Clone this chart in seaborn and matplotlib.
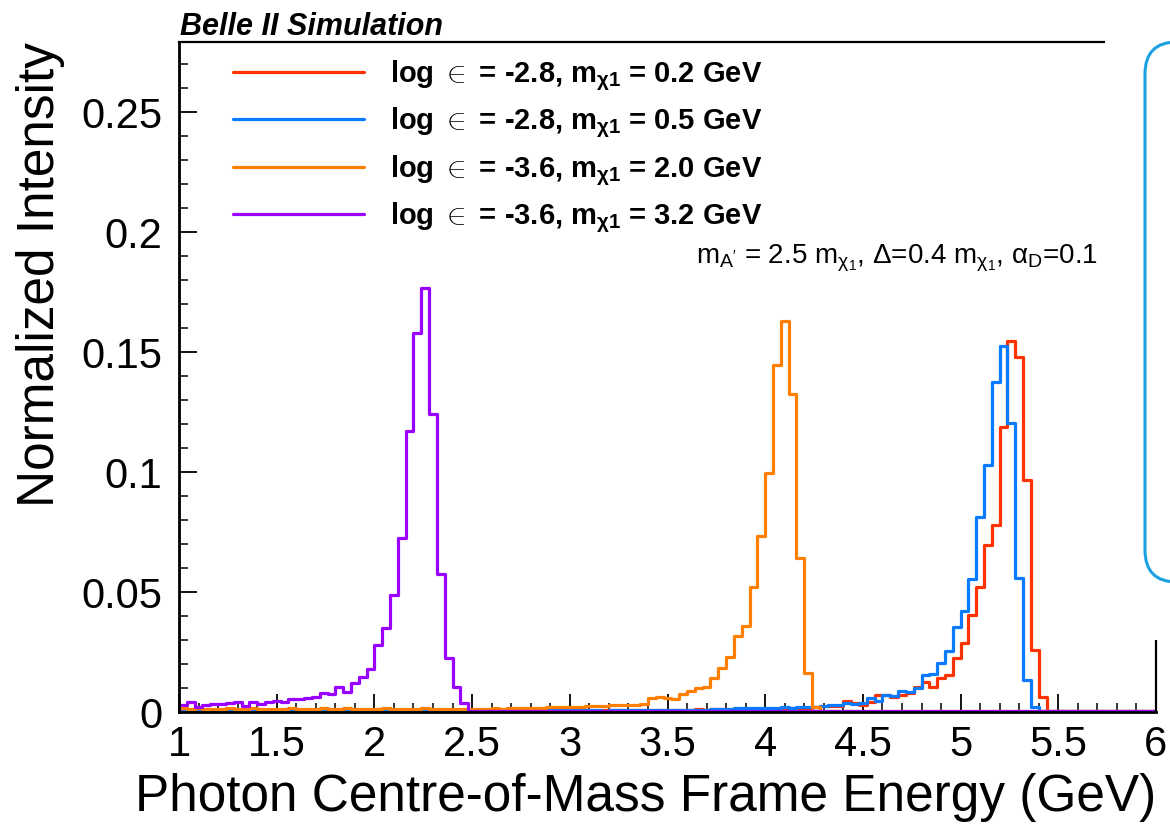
import numpy as np
import pandas as pd
import matplotlib
matplotlib.use("Agg")
import matplotlib.pyplot as plt
import seaborn as sns
from matplotlib.lines import Line2D
from matplotlib.patches import Rectangle, FancyBboxPatch
from matplotlib.transforms import IdentityTransform
from matplotlib.ticker import MultipleLocator

# 125 bins of 0.04 GeV between 1 and 6 GeV
bin_edges = np.linspace(1.0, 6.0, 126)
bin_centers = bin_edges[:-1] + 0.02

# log eps = -2.8, m_chi1 = 0.2 GeV
red_vals = [
    0.0007, 0.0006, 0.0008, 0.0007, 0.0006, 0.0007, 0.0007, 0.0006, 0.0008, 0.0007,
    0.0006, 0.0007, 0.0008, 0.0007, 0.0006, 0.0007, 0.0007, 0.0008, 0.0006, 0.0007,
    0.0007, 0.0006, 0.0007, 0.0008, 0.0007, 0.0006, 0.0007, 0.0007, 0.0008, 0.0007,
    0.0006, 0.0007, 0.0007, 0.0008, 0.0007, 0.0006, 0.0007, 0.0008, 0.0007, 0.0007,
    0.0006, 0.0007, 0.0008, 0.0007, 0.0007, 0.0006, 0.0007, 0.0008, 0.0007, 0.0007,
    0.0007, 0.0008, 0.0007, 0.0006, 0.0007, 0.0008, 0.0007, 0.0007, 0.0008, 0.0007,
    0.0008, 0.0009, 0.0009, 0.0010, 0.0009, 0.0010, 0.0011, 0.0010, 0.0011, 0.0012,
    0.0011, 0.0012, 0.0013, 0.0012, 0.0013, 0.0014, 0.0013, 0.0014, 0.0015, 0.0016,
    0.0016, 0.0020, 0.0024, 0.0026, 0.0027, 0.0047, 0.0036, 0.0029, 0.0043, 0.0071,
    0.0072, 0.0064, 0.0070, 0.0078, 0.0106, 0.0126, 0.0103, 0.0140, 0.0154, 0.0224,
    0.0286, 0.0404, 0.0522, 0.0696, 0.0779, 0.1189, 0.1547, 0.1481, 0.0967, 0.0258,
    0.0061, 0.0006, 0.0004, 0.0004, 0.0004, 0.0004, 0.0004, 0.0004, 0.0004, 0.0004,
    0.0004, 0.0004, 0.0004, 0.0004, 0.0004,
]

# log eps = -2.8, m_chi1 = 0.5 GeV
blue_vals = [
    0.0007, 0.0006, 0.0008, 0.0007, 0.0006, 0.0007, 0.0008, 0.0006, 0.0007, 0.0007,
    0.0006, 0.0007, 0.0007, 0.0008, 0.0006, 0.0007, 0.0007, 0.0006, 0.0008, 0.0007,
    0.0007, 0.0008, 0.0006, 0.0007, 0.0007, 0.0008, 0.0007, 0.0006, 0.0007, 0.0007,
    0.0008, 0.0007, 0.0006, 0.0007, 0.0007, 0.0008, 0.0007, 0.0007, 0.0006, 0.0007,
    0.0007, 0.0006, 0.0007, 0.0008, 0.0007, 0.0007, 0.0006, 0.0007, 0.0008, 0.0007,
    0.0007, 0.0007, 0.0008, 0.0007, 0.0006, 0.0007, 0.0008, 0.0007, 0.0007, 0.0008,
    0.0008, 0.0008, 0.0009, 0.0008, 0.0009, 0.0010, 0.0009, 0.0010, 0.0011, 0.0012,
    0.0012, 0.0016, 0.0017, 0.0016, 0.0017, 0.0018, 0.0018, 0.0019, 0.0018, 0.0019,
    0.0020, 0.0022, 0.0023, 0.0029, 0.0030, 0.0036, 0.0035, 0.0037, 0.0057, 0.0046,
    0.0071, 0.0068, 0.0089, 0.0085, 0.0099, 0.0154, 0.0157, 0.0206, 0.0256, 0.0353,
    0.0422, 0.0556, 0.0811, 0.1029, 0.1374, 0.1525, 0.1203, 0.0557, 0.0133, 0.0022,
    0.0004, 0.0004, 0.0004, 0.0004, 0.0004, 0.0004, 0.0004, 0.0004, 0.0004, 0.0004,
    0.0004, 0.0004, 0.0004, 0.0004, 0.0004,
]

# log eps = -3.6, m_chi1 = 2.0 GeV
orange_vals = [
    0.0015, 0.0012, 0.0016, 0.0011, 0.0014, 0.0013, 0.0015, 0.0012, 0.0013, 0.0016,
    0.0012, 0.0014, 0.0013, 0.0011, 0.0015, 0.0013, 0.0012, 0.0014, 0.0016, 0.0013,
    0.0012, 0.0015, 0.0013, 0.0014, 0.0011, 0.0013, 0.0016, 0.0012, 0.0014, 0.0013,
    0.0012, 0.0015, 0.0014, 0.0013, 0.0012, 0.0014, 0.0013, 0.0012, 0.0014, 0.0013,
    0.0015, 0.0014, 0.0016, 0.0015, 0.0017, 0.0016, 0.0018, 0.0019, 0.0020, 0.0021,
    0.0022, 0.0022, 0.0024, 0.0026, 0.0027, 0.0029, 0.0030, 0.0031, 0.0030, 0.0032,
    0.0058, 0.0062, 0.0057, 0.0053, 0.0074, 0.0089, 0.0099, 0.0106, 0.0140, 0.0182,
    0.0228, 0.0318, 0.0358, 0.0522, 0.0733, 0.0997, 0.1446, 0.1631, 0.1324, 0.0640,
    0.0161, 0.0022, 0.0006, 0.0005, 0.0005, 0.0005, 0.0005, 0.0005, 0.0005, 0.0005,
    0.0005, 0.0005, 0.0005, 0.0005, 0.0005, 0.0005, 0.0005, 0.0005, 0.0005, 0.0005,
    0.0005, 0.0005, 0.0005, 0.0005, 0.0005, 0.0005, 0.0005, 0.0005, 0.0005, 0.0005,
    0.0005, 0.0005, 0.0005, 0.0005, 0.0005, 0.0005, 0.0005, 0.0005, 0.0005, 0.0005,
    0.0005, 0.0005, 0.0005, 0.0005, 0.0005,
]

# log eps = -3.6, m_chi1 = 3.2 GeV
purple_vals = [
    0.0030, 0.0040, 0.0020, 0.0031, 0.0032, 0.0034, 0.0036, 0.0040, 0.0025, 0.0040,
    0.0035, 0.0042, 0.0045, 0.0040, 0.0055, 0.0054, 0.0060, 0.0062, 0.0078, 0.0074,
    0.0105, 0.0085, 0.0122, 0.0147, 0.0178, 0.0279, 0.0351, 0.0488, 0.0726, 0.1170,
    0.1580, 0.1765, 0.1240, 0.0574, 0.0226, 0.0103, 0.0039, 0.0004, 0.0003, 0.0003,
    0.0003, 0.0003, 0.0003, 0.0003, 0.0003, 0.0003, 0.0003, 0.0003, 0.0003, 0.0003,
    0.0003, 0.0003, 0.0003, 0.0003, 0.0003, 0.0003, 0.0003, 0.0003, 0.0003, 0.0003,
    0.0003, 0.0003, 0.0003, 0.0003, 0.0003, 0.0003, 0.0003, 0.0003, 0.0003, 0.0003,
    0.0003, 0.0003, 0.0003, 0.0003, 0.0003, 0.0003, 0.0003, 0.0003, 0.0003, 0.0003,
    0.0003, 0.0003, 0.0003, 0.0003, 0.0003, 0.0003, 0.0003, 0.0003, 0.0003, 0.0003,
    0.0003, 0.0003, 0.0003, 0.0003, 0.0003, 0.0003, 0.0003, 0.0003, 0.0003, 0.0003,
    0.0003, 0.0003, 0.0003, 0.0003, 0.0003, 0.0003, 0.0003, 0.0003, 0.0003, 0.0003,
    0.0003, 0.0003, 0.0003, 0.0003, 0.0003, 0.0003, 0.0003, 0.0003, 0.0003, 0.0003,
    0.0003, 0.0003, 0.0003, 0.0003, 0.0003,
]

series = [red_vals, blue_vals, orange_vals, purple_vals]
colors = ["#ff3300", "#0a7aff", "#ff7f00", "#9900ff"]
labels = [
    r"log $\in$ = -2.8, m$_{\mathbf{\chi1}}$ = 0.2 GeV",
    r"log $\in$ = -2.8, m$_{\mathbf{\chi1}}$ = 0.5 GeV",
    r"log $\in$ = -3.6, m$_{\mathbf{\chi1}}$ = 2.0 GeV",
    r"log $\in$ = -3.6, m$_{\mathbf{\chi1}}$ = 3.2 GeV",
]

xticks = [1, 1.5, 2, 2.5, 3, 3.5, 4, 4.5, 5, 5.5, 6]
xticklabels = ["1", "1.5", "2", "2.5", "3", "3.5", "4", "4.5", "5", "5.5", "6"]
yticks = [0, 0.05, 0.1, 0.15, 0.2, 0.25]
yticklabels = ["0", "0.05", "0.1", "0.15", "0.2", "0.25"]

sns.set_style("ticks")
plt.rcParams["font.family"] = ["Liberation Sans", "DejaVu Sans"]
plt.rcParams["mathtext.fontset"] = "custom"
plt.rcParams["mathtext.rm"] = "Liberation Sans"
plt.rcParams["mathtext.it"] = "Liberation Sans:italic"
plt.rcParams["mathtext.bf"] = "Liberation Sans:bold"
plt.rcParams["text.color"] = "black"
plt.rcParams["axes.labelcolor"] = "black"

fig = plt.figure(figsize=(11.7, 8.34), dpi=100)
ax = fig.add_axes([179 / 1170, 1 - 712 / 834, (1156 - 179) / 1170, (712 - 42) / 834])

for vals, c in zip(series, colors):
    df = pd.DataFrame({"energy": bin_centers, "intensity": vals})
    sns.histplot(data=df, x="energy", weights="intensity", bins=list(bin_edges), element="step",
                 fill=False, color=c, linewidth=2.3, ax=ax)

ax.set_xlim(1, 6)
ax.set_ylim(0, 0.2792)
ax.set_xticks(xticks)
ax.set_xticklabels(xticklabels)
ax.set_yticks(yticks)
ax.set_yticklabels(yticklabels)
ax.xaxis.set_minor_locator(MultipleLocator(0.1))
ax.yaxis.set_minor_locator(MultipleLocator(0.01))
ax.tick_params(which="major", direction="in", length=13, width=1.3, labelsize=30, colors="black")
ax.tick_params(which="minor", direction="in", length=6.5, width=1.1, colors="black")
ax.tick_params(axis="x", which="major", pad=9)
ax.tick_params(axis="y", which="major", pad=12)
for s in ["left", "bottom"]:
    ax.spines[s].set_linewidth(2.0)
for s in ["top", "right"]:
    ax.spines[s].set_linewidth(1.6)
for s in ax.spines.values():
    s.set_color("black")

ax.set_xlabel("Photon Centre-of-Mass Frame Energy (GeV)", fontsize=37, loc="right", labelpad=6)
ax.set_ylabel("Normalized Intensity", fontsize=37, loc="top", labelpad=12)

handles = [Line2D([], [], color=c, linewidth=2.3) for c in colors]
ax.legend(handles, labels, loc="upper left", bbox_to_anchor=(0.055, 0.976), frameon=False,
          prop={"weight": "bold", "size": 21}, handlelength=4.5, handletextpad=0.9,
          labelspacing=0.44, borderpad=0, borderaxespad=0)

ax.text(5.70, 0.1871, r"m$_{\mathrm{A'}}$ = 2.5 m$_{\mathrm{\chi_1}}$, Δ=0.4 m$_{\mathrm{\chi_1}}$, α$_{\mathrm{D}}$=0.1",
        fontsize=20, ha="right", va="baseline")

fig.text(180 / 1170, 1 - 35 / 834, "Belle II Simulation", fontsize=22, fontweight="bold",
         fontstyle="italic", ha="left", va="baseline")

# slide overlay on the right edge
fig.add_artist(Rectangle((1105, 194), 80, 700, transform=IdentityTransform(),
                         facecolor="white", edgecolor="none", zorder=10))
fig.add_artist(FancyBboxPatch((1145, 252), 120, 540, boxstyle="round,pad=0,rounding_size=32",
                              transform=IdentityTransform(), facecolor="white",
                              edgecolor="#1ba1e2", linewidth=2.2, zorder=11))

fig.savefig("out.png", dpi=100)
